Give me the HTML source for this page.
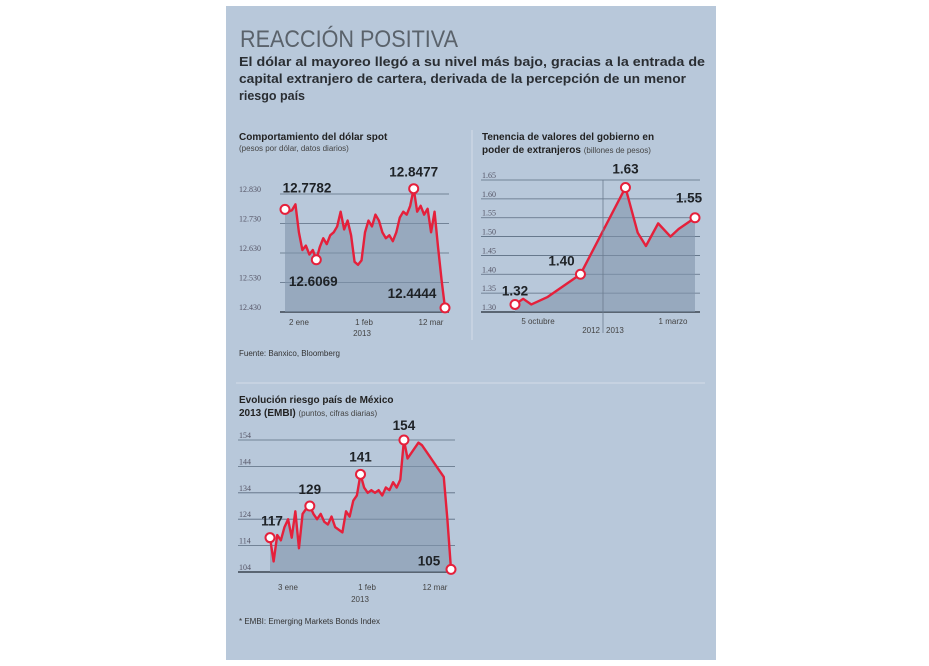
<!DOCTYPE html>
<html><head><meta charset="utf-8"><style>
body{margin:0;background:#fff;width:929px;height:666px;overflow:hidden;font-family:"Liberation Sans",sans-serif}
svg{position:absolute;left:0;top:0}
</style></head><body>
<svg id="s" width="929" height="666" xmlns="http://www.w3.org/2000/svg">
<rect x="226" y="6" width="490" height="654" fill="#b8c8da"/>
<text x="240" y="47" font-size="24" fill="#5a626b" font-family="Liberation Sans Narrow, Liberation Sans" textLength="218" lengthAdjust="spacingAndGlyphs">REACCIÓN POSITIVA</text>
<g font-size="12.5" font-weight="bold" fill="#2a2e33">
<text x="239" y="66" textLength="466" lengthAdjust="spacingAndGlyphs">El dólar al mayoreo llegó a su nivel más bajo, gracias a la entrada de</text>
<text x="239" y="83" textLength="447" lengthAdjust="spacingAndGlyphs">capital extranjero de cartera, derivada de la percepción de un menor</text>
<text x="239" y="100">riesgo país</text></g>
<g font-size="10" fill="#222">
<text x="239" y="140" font-weight="bold">Comportamiento del dólar spot</text>
<text x="239" y="151" font-size="8" fill="#444">(pesos por dólar, datos diarios)</text></g>
<g font-size="10" fill="#222">
<text x="482" y="140" font-weight="bold">Tenencia de valores del gobierno en</text>
<text x="482" y="153" font-weight="bold">poder de extranjeros <tspan font-weight="normal" font-size="8" fill="#444">(billones de pesos)</tspan></text></g>
<g font-size="10" fill="#222">
<text x="239" y="403" font-weight="bold">Evolución riesgo país de México</text>
<text x="239" y="416" font-weight="bold">2013 (EMBI) <tspan font-weight="normal" font-size="8" fill="#444">(puntos, cifras diarias)</tspan></text></g>
<line x1="236" y1="383" x2="705" y2="383" stroke="#d3dde8" stroke-width="1"/>
<line x1="472" y1="130" x2="472" y2="340" stroke="#d3dde8" stroke-width="1"/>
<text x="239" y="356" font-size="8" fill="#333">Fuente: Banxico, Bloomberg</text>
<text x="239" y="624" font-size="8" fill="#333">* EMBI: Emerging Markets Bonds Index</text>
<g id="c1"></g><g id="c2"></g><g id="c3"></g>
</svg>
<script>
const c1Ticks=[12.830,12.730,12.630,12.530,12.430];
const c1Tlabels=["12.830","12.730","12.630","12.530","12.430"];
const c1Values=[12.778,12.770,12.775,12.795,12.700,12.640,12.655,12.625,12.640,12.607,12.650,12.680,12.660,12.690,12.700,12.720,12.770,12.710,12.740,12.690,12.600,12.590,12.605,12.700,12.740,12.720,12.760,12.740,12.700,12.680,12.690,12.670,12.700,12.750,12.770,12.760,12.790,12.848,12.770,12.790,12.760,12.780,12.700,12.770,12.650,12.540,12.444];
const c1Marks=[0,9,37,46];
const c1Mlabels=["12.7782","12.6069","12.8477","12.4444"];
const c1Xlabels=["2 ene","1 feb","12 mar"];

const c2Ticks=[1.65,1.60,1.55,1.50,1.45,1.40,1.35,1.30];
const c2Tlabels=["1.65","1.60","1.55","1.50","1.45","1.40","1.35","1.30"];
const c2T=[0,2,4,8,16,27,30,32,35,38,40,44];
const c2Values=[1.32,1.335,1.32,1.34,1.40,1.63,1.51,1.475,1.535,1.50,1.52,1.55];
const c2Marks=[0,4,5,11];
const c2Mlabels=["1.32","1.40","1.63","1.55"];

const c3Ticks=[154,144,134,124,114,104];
const c3Tlabels=["154","144","134","124","114","104"];
const c3Values=[117,108,118,116,121,124,117,127,113,126,128,129,126,124,126,123,122,125,121,120,119,127,125,131,133,141,136,134,135,134,135,133,136,135,138,136,139,154,147,149,151,153,152,150,148,146,144,142,140,124,105];
const c3Marks=[0,11,25,37,50];
const c3Mlabels=["117","129","141","154","105"];
const c3Xlabels=["3 ene","1 feb","12 mar"];

const NS="http://www.w3.org/2000/svg";
function mk(p,tag,a){const e=document.createElementNS(NS,tag);for(const k in a)e.setAttribute(k,a[k]);p.appendChild(e);return e;}
function txt(p,x,y,s,a){const e=mk(p,'text',Object.assign({x:x,y:y},a));e.textContent=s;return e;}

function chart(g,cfg){
  const ys=v=>cfg.yTop+(cfg.tMax-v)/(cfg.tMax-cfg.tMin)*(cfg.yBot-cfg.yTop);
  const xs=cfg.xs;
  cfg.ticks.forEach((t,i)=>{
    const l=mk(g,'line',{x1:cfg.gx0,x2:cfg.gx1,y1:ys(t),y2:ys(t),stroke:i==cfg.ticks.length-1?'#3a4450':'#5b6c80','stroke-width':i==cfg.ticks.length-1?1.5:0.8});
    
    
    const tl=txt(g,cfg.lx,ys(t)-2,cfg.tlabels[i],{'font-size':8,fill:'#556','font-family':'Liberation Serif'});
    
    
  });
  const pts=cfg.values.map((v,i)=>[xs(i),ys(v)]);
  let d='M'+pts[0][0]+','+cfg.yBot+' '+pts.map(p=>'L'+p[0]+','+p[1]).join(' ')+' L'+pts[pts.length-1][0]+','+cfg.yBot+'Z';
  const a=mk(g,'path',{d:d,fill:'#8195ab','fill-opacity':0.6});
  
  
  const ln=mk(g,'path',{d:'M'+pts.map(p=>p.join(',')).join(' L'),fill:'none',stroke:'#e5203b','stroke-width':2.4,'stroke-linejoin':'round'});
  
  
  cfg.marks.forEach((m,i)=>{
    const c=mk(g,'circle',{cx:pts[m][0],cy:pts[m][1],r:4.5,fill:'#fff',stroke:'#e5203b','stroke-width':2});
    
    
    const o=cfg.off[i];
    const t=txt(g,pts[m][0]+o[0],pts[m][1]+o[1],cfg.mlabels[i],{'font-size':13.5,'font-weight':'bold',fill:'#1e2226','text-anchor':'middle'});
    
    
  });
}
const n1=c1Values.length;
chart(document.getElementById('c1'),{yTop:194,yBot:312,tMax:12.830,tMin:12.430,ticks:c1Ticks,tlabels:c1Tlabels,gx0:280,gx1:449,lx:239,
 xs:i=>285+i*(160/(n1-1)),values:c1Values,marks:c1Marks,mlabels:c1Mlabels,off:[[22,-17],[-3,26],[0,-12],[-33,-10]]});
const t2max=c2T[c2T.length-1];
chart(document.getElementById('c2'),{yTop:180,yBot:312,tMax:1.65,tMin:1.30,ticks:c2Ticks,tlabels:c2Tlabels,gx0:481,gx1:700,lx:482,
 xs:i=>515+c2T[i]/t2max*180,values:c2Values,marks:c2Marks,mlabels:c2Mlabels,off:[[0,-9],[-19,-9],[0,-14],[-6,-15]]});
const n3=c3Values.length;
chart(document.getElementById('c3'),{yTop:440,yBot:572,tMax:154,tMin:104,ticks:c3Ticks,tlabels:c3Tlabels,gx0:238,gx1:455,lx:239,
 xs:i=>270+i*(181/(n3-1)),values:c3Values,marks:c3Marks,mlabels:c3Mlabels,off:[[2,-12],[0,-12],[0,-13],[0,-10],[-22,-4]]});
const g1=document.getElementById('c1');
[[299,c1Xlabels[0]],[364,c1Xlabels[1]],[431,c1Xlabels[2]]].forEach(a=>{const t=txt(g1,a[0],325,a[1],{'font-size':8,fill:'#444','text-anchor':'middle'});});
const y1=txt(g1,362,336,'2013',{'font-size':8,fill:'#444','text-anchor':'middle'});
const g2=document.getElementById('c2');
const vl=mk(g2,'line',{x1:603,x2:603,y1:180,y2:333,stroke:'#6b7b8e','stroke-width':0.8});
[[538,'5 octubre'],[673,'1 marzo']].forEach(a=>{const t=txt(g2,a[0],324,a[1],{'font-size':8,fill:'#444','text-anchor':'middle'});});
const ya=txt(g2,600,333,'2012',{'font-size':8,fill:'#444','text-anchor':'end'});
const yb=txt(g2,606,333,'2013',{'font-size':8,fill:'#444'});
const g3=document.getElementById('c3');
[[288,c3Xlabels[0]],[367,c3Xlabels[1]],[435,c3Xlabels[2]]].forEach(a=>{const t=txt(g3,a[0],590,a[1],{'font-size':8,fill:'#444','text-anchor':'middle'});});
const y3=txt(g3,360,602,'2013',{'font-size':8,fill:'#444','text-anchor':'middle'});
</script>
</body></html>
